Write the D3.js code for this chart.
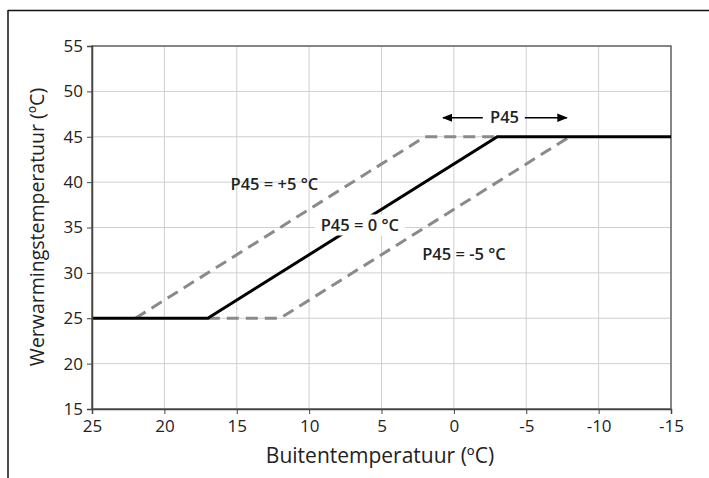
<!DOCTYPE html>
<html>
<head>
<meta charset="utf-8">
<script src="https://cdn.jsdelivr.net/npm/d3@7"></script>
<style>
  body { margin: 0; background: #fff; }
  text { font-family: "Open Sans", "Noto Sans", sans-serif; fill: #222; }
</style>
</head>
<body>
<svg id="chart" width="709" height="478"></svg>
<script>
var xTicks = [25, 20, 15, 10, 5, 0, -5, -10, -15];
var yTicks = [15, 20, 25, 30, 35, 40, 45, 50, 55];

// stooklijnen: buitentemperatuur -> werwarmingstemperatuur
var curveZeroX = [25, 17, -3, -15];
var curveZeroY = [25, 25, 45, 45];
var curvePlusX = [22, 2, -3];
var curvePlusY = [25, 45, 45];
var curveMinX = [17, 12, -8];
var curveMinY = [25, 25, 45];

var labels = [
  {text: "P45 = +5 \u00B0C", x: 12.4, y: 39.8},
  {text: "P45 = 0 \u00B0C", x: 6.5, y: 35.2},
  {text: "P45 = -5 \u00B0C", x: -0.7, y: 32.1}
];

var margin = { top: 46, right: 38, bottom: 70, left: 92 };
var width = 709, height = 478;

var svg = d3.select("#chart");

// kader
svg.append("line").attr("x1", 8).attr("x2", width).attr("y1", 10.5).attr("y2", 10.5)
  .attr("stroke", "#111").attr("stroke-width", 1.5);
svg.append("line").attr("x1", 8).attr("x2", 8).attr("y1", 10).attr("y2", height)
  .attr("stroke", "#111").attr("stroke-width", 1.5);

var x = d3.scaleLinear().domain([25, -15]).range([margin.left, 671]);
var y = d3.scaleLinear().domain([15, 55]).range([409, 46]);

var g = svg.append("g");

// raster
g.selectAll(".vgrid").data(xTicks).enter().append("line")
  .attr("x1", function(d) { return x(d); }).attr("x2", function(d) { return x(d); })
  .attr("y1", y(15)).attr("y2", y(55))
  .attr("stroke", "#cfcfcf").attr("stroke-width", 1);
g.selectAll(".hgrid").data(yTicks).enter().append("line")
  .attr("x1", x(25)).attr("x2", x(-15))
  .attr("y1", function(d) { return y(d); }).attr("y2", function(d) { return y(d); })
  .attr("stroke", "#cfcfcf").attr("stroke-width", 1);

// buitenrand plot
g.append("rect").attr("x", x(25)).attr("y", y(55))
  .attr("width", x(-15) - x(25)).attr("height", y(15) - y(55))
  .attr("fill", "none").attr("stroke", "#666").attr("stroke-width", 1.5);

var fmt = function(d) { return String(d); };
var xAxis = d3.axisBottom(x).tickValues(xTicks).tickFormat(fmt).tickSize(5).tickPadding(6);
var yAxis = d3.axisLeft(y).tickValues(yTicks).tickFormat(fmt).tickSize(5).tickPadding(4);

var gx = svg.append("g").attr("transform", "translate(0," + y(15) + ")").call(xAxis);
var gy = svg.append("g").attr("transform", "translate(" + x(25) + ",0)").call(yAxis);
[gx, gy].forEach(function(a) {
  a.select(".domain").attr("stroke", "#444").attr("stroke-width", 1.5);
  a.selectAll(".tick line").attr("stroke", "#444");
  a.selectAll(".tick text").style("font-size", "17px").style("font-family", "Open Sans, sans-serif").attr("fill", "#222");
});

var line = d3.line()
  .x(function(d) { return x(d[0]); })
  .y(function(d) { return y(d[1]); });

function pts(xs, ys) { return xs.map(function(v, i) { return [v, ys[i]]; }); }

[pts(curvePlusX, curvePlusY), pts(curveMinX, curveMinY)].forEach(function(p) {
  g.append("path").datum(p).attr("d", line)
    .attr("fill", "none").attr("stroke", "#8a8a8a").attr("stroke-width", 3)
    .attr("stroke-dasharray", "12,7");
});
g.append("path").datum(pts(curveZeroX, curveZeroY)).attr("d", line)
  .attr("fill", "none").attr("stroke", "#000").attr("stroke-width", 3);

// labels
labels.forEach(function(l, i) {
  var t = g.append("text").attr("x", x(l.x)).attr("y", y(l.y))
    .attr("text-anchor", "middle").attr("dy", "0.35em")
    .style("font-size", "16.5px").style("font-weight", 600).text(l.text);
  if (i == 1) {
    var bb = t.node().getBBox();
    g.insert("rect", function() { return t.node(); })
      .attr("x", bb.x - 6).attr("y", bb.y + 1).attr("width", bb.width + 12).attr("height", bb.height - 2)
      .attr("fill", "#fff");
  }
});

// P45 pijl
var arrowY = y(47.1);
svg.append("defs").append("marker").attr("id", "arr").attr("viewBox", "0 0 10 10")
  .attr("refX", 9).attr("refY", 5).attr("markerWidth", 7).attr("markerHeight", 7)
  .attr("orient", "auto-start-reverse")
  .append("path").attr("d", "M0,1 L10,5 L0,9 z").attr("fill", "#000");
g.append("line").attr("x1", x(-2)).attr("x2", x(0.75)).attr("y1", arrowY).attr("y2", arrowY)
  .attr("stroke", "#000").attr("stroke-width", 1.5).attr("marker-end", "url(#arr)");
g.append("line").attr("x1", x(-4.9)).attr("x2", x(-7.8)).attr("y1", arrowY).attr("y2", arrowY)
  .attr("stroke", "#000").attr("stroke-width", 1.5).attr("marker-end", "url(#arr)");
g.append("text").attr("x", x(-3.5)).attr("y", arrowY).attr("dy", "0.35em")
  .attr("text-anchor", "middle").style("font-size", "16.5px").style("font-weight", 600).text("P45");

// as-titels
svg.append("text").attr("x", 380).attr("y", 463).attr("text-anchor", "middle")
  .style("font-size", "21px").text("Buitentemperatuur (\u00BAC)");
svg.append("text").attr("transform", "translate(44,227) rotate(-90)").attr("text-anchor", "middle")
  .style("font-size", "19.5px").text("Werwarmingstemperatuur (\u00BAC)");
</script>
</body>
</html>
